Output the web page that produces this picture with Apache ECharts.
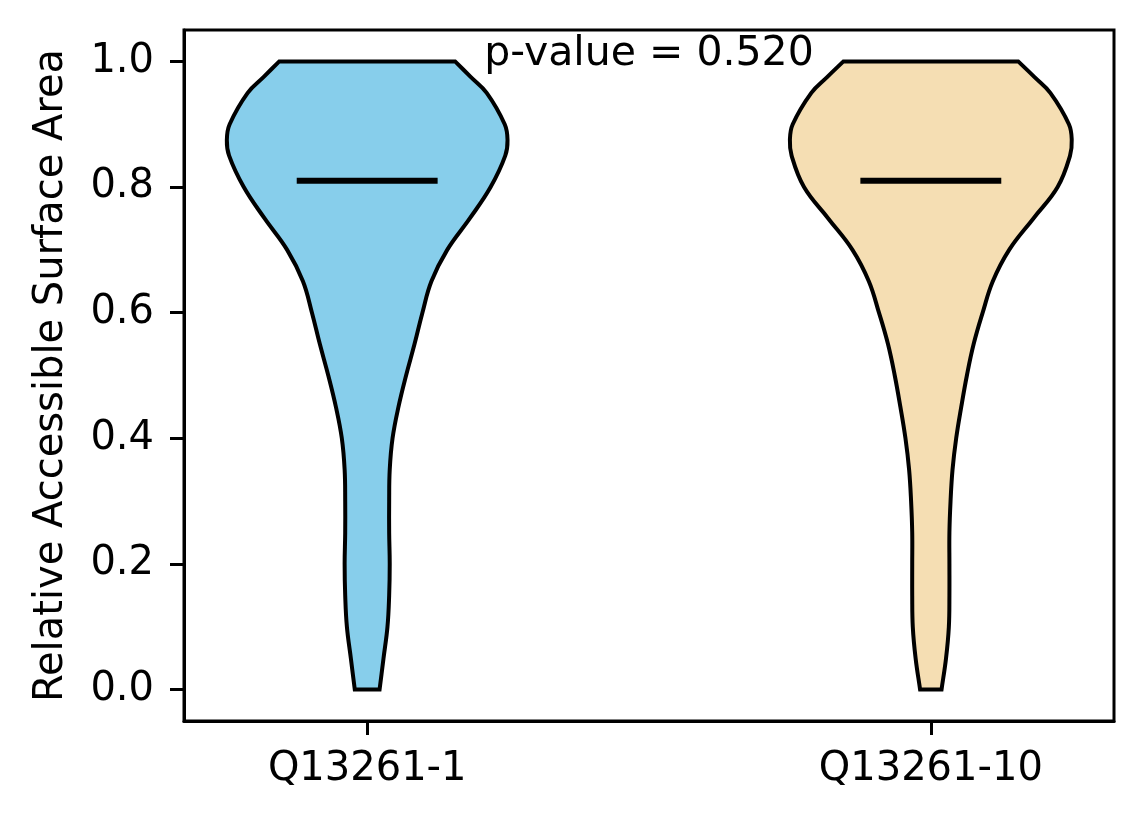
<!DOCTYPE html>
<html>
<head>
<meta charset="utf-8">
<script src="https://cdn.jsdelivr.net/npm/echarts@6/dist/echarts.min.js"></script>
<style>
  html, body { margin: 0; padding: 0; background: #fff; }
  #main { width: 1144px; height: 824px; }
</style>
</head>
<body>
<div id="main"></div>
<script>
// groups and their x positions
var categories = ['Q13261-1', 'Q13261-10'];
var positions = [1, 2];
var colors = ['#87CEEB', '#F5DEB3'];
var medians = [0.81, 0.81];

// violin outline: half width (x units) read at each y level
var levels = [0.00, 0.05, 0.10, 0.15, 0.20, 0.25, 0.30, 0.35, 0.40, 0.45, 0.50,
              0.55, 0.60, 0.65, 0.70, 0.75, 0.80, 0.85, 0.875, 0.90, 0.95, 0.975, 1.00];
var widthsA = [0.022, 0.029, 0.036, 0.039, 0.040, 0.039, 0.039, 0.040, 0.045, 0.0555, 0.069,
               0.084, 0.098, 0.114, 0.142, 0.182, 0.219, 0.245, 0.249, 0.244, 0.212, 0.184, 0.156];
var widthsB = [0.019, 0.027, 0.032, 0.033, 0.033, 0.033, 0.035, 0.0385, 0.045, 0.054, 0.064,
               0.076, 0.092, 0.110, 0.139, 0.182, 0.225, 0.247, 0.250, 0.245, 0.212, 0.184, 0.155];
var profiles = [widthsA, widthsB];

var yTicks = [0.0, 0.2, 0.4, 0.6, 0.8, 1.0];
var pText = 'p-value = 0.520';

var font = 'DejaVu Sans';
var chart = echarts.init(document.getElementById('main'));

function renderViolin(params, api) {
  var i = params.dataIndex;
  var pos = api.value(0);
  var w = profiles[i];
  var n = levels.length;
  var pts = [];
  for (var k = 0; k < n; k++) {
    pts.push(api.coord([pos - w[k], levels[k]]));
    if (k === 0 || k === n - 1) pts.push(pts[pts.length - 1].slice()); // keep corners sharp
  }
  for (var k = n - 1; k >= 0; k--) {
    pts.push(api.coord([pos + w[k], levels[k]]));
    if (k === 0 || k === n - 1) pts.push(pts[pts.length - 1].slice());
  }
  var m1 = api.coord([pos - 0.125, api.value(1)]);
  var m2 = api.coord([pos + 0.125, api.value(1)]);
  return {
    type: 'group',
    children: [{
      type: 'polygon',
      shape: { points: pts, smooth: 0.4 },
      style: { fill: colors[i], stroke: '#000', lineWidth: 4, lineJoin: 'miter' }
    }, {
      type: 'line',
      shape: { x1: m1[0], y1: m1[1], x2: m2[0], y2: m2[1] },
      style: { stroke: '#000', lineWidth: 6 }
    }]
  };
}

var option = {
  animation: false,
  grid: {
    left: 184, top: 30, right: 30, bottom: 103,
    show: true, borderColor: '#000', borderWidth: 3, backgroundColor: 'transparent'
  },
  xAxis: {
    type: 'value',
    min: 0.675,
    max: 2.325,
    splitLine: { show: false },
    axisLine: { show: true, onZero: false, lineStyle: { color: '#000', width: 3 } },
    axisTick: { show: true, length: 14, lineStyle: { color: '#000', width: 3 }, customValues: positions },
    axisLabel: {
      customValues: positions,
      margin: 29,
      color: '#000', fontFamily: font, fontSize: 40,
      formatter: function (v) { return categories[Math.round(v) - 1]; }
    }
  },
  yAxis: {
    type: 'value',
    min: -0.05,
    max: 1.05,
    name: 'Relative Accessible Surface Area',
    nameLocation: 'middle',
    nameGap: 112,
    nameTextStyle: { color: '#000', fontFamily: font, fontSize: 40 },
    splitLine: { show: false },
    axisLine: { show: true, onZero: false, lineStyle: { color: '#000', width: 3 } },
    axisTick: { show: true, length: 14, lineStyle: { color: '#000', width: 3 }, customValues: yTicks },
    axisLabel: {
      customValues: yTicks,
      margin: 30,
      color: '#000', fontFamily: font, fontSize: 40,
      formatter: function (v) { return v.toFixed(1); }
    }
  },
  series: [{
    type: 'custom',
    renderItem: renderViolin,
    data: positions.map(function (p, i) { return [p, medians[i]]; }),
    z: 2
  }, {
    type: 'custom',
    renderItem: function (params, api) {
      var c = api.coord([api.value(0), api.value(1)]);
      return {
        type: 'text',
        x: c[0], y: c[1] - 7,
        style: {
          text: pText, fill: '#000', fontFamily: font, fontSize: 41,
          align: 'center', verticalAlign: 'middle'
        }
      };
    },
    data: [[1.5, 1.0]],
    z: 3
  }]
};

chart.setOption(option);
</script>
</body>
</html>
